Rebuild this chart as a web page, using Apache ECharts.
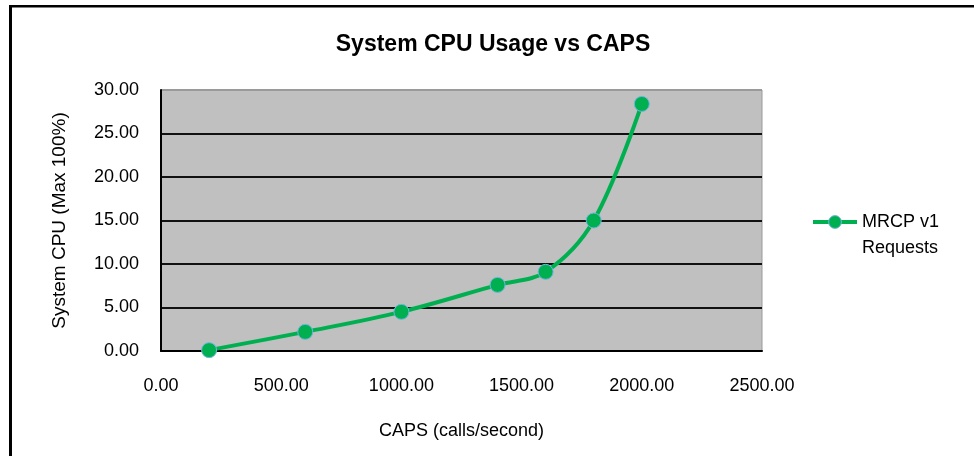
<!DOCTYPE html>
<html>
<head>
<meta charset="utf-8">
<script src="https://cdn.jsdelivr.net/npm/echarts@6/dist/echarts.min.js"></script>
<style>html,body{margin:0;padding:0;background:#fff}#c{width:974px;height:456px}</style>
</head>
<body>
<div id="c"></div>
<script>
var caps = [200, 600, 1000, 1400, 1600, 1800, 2000];
var cpu = [0.1, 2.2, 4.5, 7.6, 9.1, 15.0, 28.4];
var seriesName = 'MRCP v1 Requests';
var titleText = 'System CPU Usage vs CAPS';
var xName = 'CAPS (calls/second)';
var yName = 'System CPU (Max 100%)';

var FONT = '"Liberation Sans", Arial, sans-serif';
var chart = echarts.init(document.getElementById('c'), null, {renderer: 'canvas'});
chart.setOption({
  backgroundColor: '#fff',
  animation: false,
  title: {
    text: titleText,
    left: 488, top: 28, textAlign: 'center',
    textStyle: {fontFamily: FONT, fontSize: 23, fontWeight: 'bold', color: '#000'}
  },
  legend: {
    left: 806, top: 178,
    itemWidth: 44, itemHeight: 16, itemGap: 0,
    formatter: function () { return ' \nMRCP v1\nRequests'; },
    lineStyle: {width: 4, color: '#00b050'},
    itemStyle: {color: '#00b050', borderColor: '#6fb6e0', borderWidth: 1},
    textStyle: {fontFamily: FONT, fontSize: 18, color: '#000', lineHeight: 26}
  },
  grid: {
    left: 161, right: 212, top: 90, bottom: 105,
    show: true, backgroundColor: '#c0c0c0', borderColor: '#9a9a9a', borderWidth: 1
  },
  xAxis: {
    type: 'value', min: 0, max: 2500, interval: 500,
    name: xName, nameLocation: 'middle', nameGap: 71,
    nameTextStyle: {fontFamily: FONT, fontSize: 18, color: '#000'},
    axisLine: {show: true, lineStyle: {color: '#000', width: 2}},
    axisTick: {show: false},
    splitLine: {show: false},
    axisLabel: {fontFamily: FONT, fontSize: 18, color: '#000', margin: 26,
      formatter: function (v) { return v.toFixed(2); }}
  },
  yAxis: {
    type: 'value', min: 0, max: 30, interval: 5,
    name: yName, nameLocation: 'middle', nameGap: 92,
    nameTextStyle: {fontFamily: FONT, fontSize: 19, color: '#000'},
    axisLine: {show: true, lineStyle: {color: '#000', width: 2}},
    axisTick: {show: false},
    splitLine: {show: true, lineStyle: {color: ['#111', '#111', '#111', '#111', '#111', '#111', '#9a9a9a'], width: 2}},
    axisLabel: {fontFamily: FONT, fontSize: 18, color: '#000', margin: 22,
      formatter: function (v) { return v.toFixed(2); }}
  },
  series: [{
    name: seriesName,
    type: 'line',
    data: caps.map(function (c, i) { return [c, cpu[i]]; }),
    smooth: 0.35,
    symbol: 'circle', symbolSize: 15,
    lineStyle: {color: '#00b050', width: 4},
    itemStyle: {color: '#00b050', borderColor: '#6fb6e0', borderWidth: 1}
  }],
  graphic: [
    {type: 'rect', shape: {x: 9, y: 5, width: 965, height: 2.5}, style: {fill: '#000'}, z: 11},
    {type: 'rect', shape: {x: 9, y: 5, width: 3, height: 451}, style: {fill: '#000'}, z: 11}
  ]
});
</script>
</body>
</html>
